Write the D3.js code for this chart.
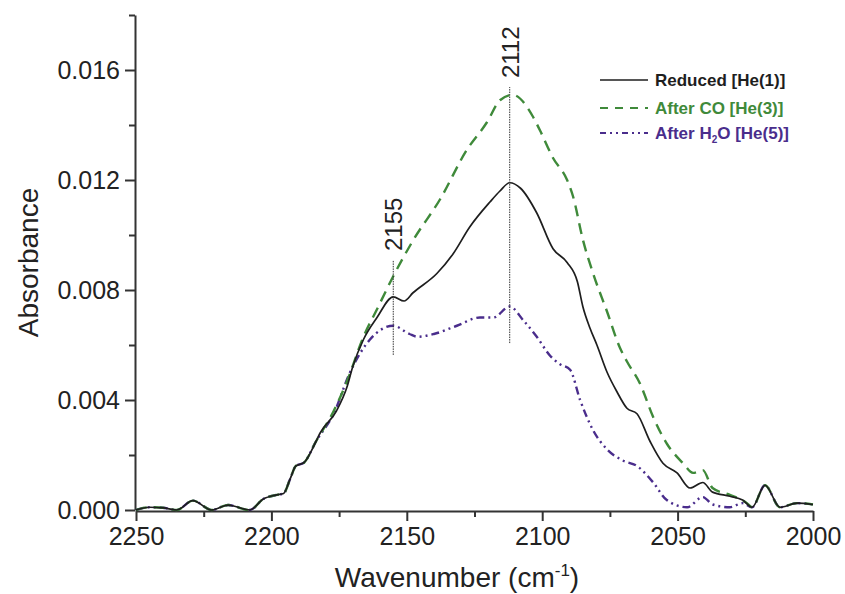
<!DOCTYPE html>
<html>
<head>
<meta charset="utf-8">
<script src="https://cdn.jsdelivr.net/npm/d3@7"></script>
<style>
    body { margin: 0; background: #fff; }
    #chart-area { width: 845px; height: 594px; }
    text { font-family: "Liberation Sans", Arial, sans-serif; fill: #222; }
    .axis path, .axis line { stroke: #333; stroke-width: 2; }
    .legend text { font-weight: bold; font-size: 17px; }
</style>
</head>
<body>
<div id="chart-area"></div>
<script>

// spectra: [wavenumber (cm-1), absorbance]
const baseline = [
    [2250, 0.0000], [2245, 0.00010], [2240, 0.00008], [2235, 0.0000], [2229, 0.00034],
    [2222, 0.0000], [2216, 0.00018], [2208, 0.0000], [2203, 0.00040], [2198, 0.00055],
    [2195.5, 0.00060], [2193, 0.00115], [2191, 0.00160], [2188, 0.00172], [2183.5, 0.0025]
];

const reduced = baseline.concat([
    [2182, 0.0028], [2176, 0.0036], [2172, 0.0045], [2170, 0.0052], [2166, 0.0062],
    [2161, 0.0070], [2155, 0.00775], [2151, 0.0076], [2147.7, 0.0079], [2138.9, 0.0086],
    [2133, 0.0093], [2126.7, 0.0103], [2119.3, 0.0112], [2115.6, 0.0116],
    [2112, 0.0119], [2108, 0.0117], [2102, 0.0108], [2096, 0.0095],
    [2090.8, 0.0090], [2087, 0.0083], [2085, 0.0074], [2082.3, 0.0066], [2079.8, 0.0060], [2076, 0.0050],
    [2072.4, 0.0043], [2068.7, 0.0037], [2065, 0.0035], [2060.2, 0.0025], [2055.4, 0.0017],
    [2050.2, 0.00135], [2045.4, 0.0008], [2040.7, 0.0010], [2037.1, 0.00065], [2030.7, 0.0005],
    [2026, 0.00036], [2022.5, 0.0001], [2017.7, 0.0009], [2012.2, 0.0001], [2005.9, 0.00025],
    [2000, 0.0002]
]);

const afterCO = baseline.concat([
    [2177, 0.0036], [2172, 0.0047], [2166, 0.0063], [2161, 0.0073], [2155, 0.0085],
    [2147.7, 0.0098], [2137.7, 0.0113], [2127.8, 0.0131], [2120.4, 0.0141],
    [2115.6, 0.0149], [2111, 0.0151], [2103.4, 0.0143], [2100.8, 0.0138], [2096, 0.0128],
    [2090.8, 0.0120], [2088.6, 0.0114], [2084.9, 0.0098], [2081.2, 0.0086], [2076, 0.0072],
    [2071.3, 0.0059], [2068.7, 0.0054], [2063.9, 0.0046], [2059.1, 0.0034], [2053.9, 0.0024],
    [2048, 0.0017], [2044.3, 0.00135], [2040.7, 0.00145], [2037.1, 0.0008], [2030.7, 0.00055],
    [2024.4, 0.00025], [2022.5, 0.0001], [2017.7, 0.0009], [2012.2, 0.0001], [2005.9, 0.00025],
    [2000, 0.0002]
]);

const afterH2O = baseline.concat([
    [2177, 0.0035], [2171, 0.0050], [2163.6, 0.0062], [2155, 0.0067], [2149, 0.0064],
    [2146, 0.0063], [2140, 0.0064], [2131.5, 0.0067], [2123, 0.0070], [2118, 0.0070],
    [2112, 0.0074], [2107, 0.0069], [2102, 0.0063], [2097, 0.0056], [2093.4, 0.0053],
    [2089.7, 0.0051], [2086, 0.0040], [2081.2, 0.0029], [2076, 0.0022], [2070.2, 0.0018],
    [2065, 0.0016], [2059, 0.0010], [2054, 0.00036], [2046.5, 0.0001], [2040.7, 0.00047],
    [2037, 0.0002], [2030.7, 0.0001], [2026, 0.00025], [2022.5, 0.0001], [2017.7, 0.0009],
    [2012.2, 0.0001], [2005.9, 0.00025], [2000, 0.0002]
]);

const seriesNames = ["Reduced [He(1)]", "After CO [He(3)]", "After H2O [He(5)]"];
const seriesColors = ["#1e1e1e", "#3f8a3a", "#4a2d8c"];
const seriesDash = [null, "11,7", "8,4,2,4,2,4"];

// marked bands: dotted line from y0 to y1
const peakMarks = [
    {wn: 2155, y0: 0.00564, y1: 0.00909},
    {wn: 2112, y0: 0.00607, y1: 0.01538}
];

const xTicks = [2250, 2200, 2150, 2100, 2050, 2000];
const xMinor = [2225, 2175, 2125, 2075, 2025];
const yTicks = [0, 0.004, 0.008, 0.012, 0.016];
const yMinor = [0.002, 0.006, 0.010, 0.014, 0.018];

class SpectraVis {

    constructor(_parentElement) {
        this.parentElement = _parentElement;
        this.initVis();
    }

    initVis() {
        let vis = this;

        vis.margin = {top: 15, right: 32, bottom: 84, left: 136};
        vis.width = 845 - vis.margin.left - vis.margin.right;
        vis.height = 594 - vis.margin.top - vis.margin.bottom;

        vis.svg = d3.select("#" + vis.parentElement).append("svg")
            .attr("width", 845)
            .attr("height", 594)
            .append("g")
            .attr("transform", "translate(" + vis.margin.left + "," + vis.margin.top + ")");

        vis.x = d3.scaleLinear().domain([2250, 2000]).range([0, vis.width]);
        vis.y = d3.scaleLinear().domain([0, 0.018]).range([vis.height, 0]);

        // minor ticks first, major on top
        vis.svg.append("g")
            .attr("class", "axis")
            .attr("transform", "translate(0," + (vis.height + 1) + ")")
            .call(d3.axisBottom(vis.x).tickValues(xMinor).tickSize(6).tickFormat(""))
            .select(".domain").remove();
        vis.svg.append("g")
            .attr("class", "axis")
            .attr("transform", "translate(-1,0)")
            .call(d3.axisLeft(vis.y).tickValues(yMinor).tickSize(6).tickFormat(""))
            .select(".domain").remove();

        let xAxisGroup = vis.svg.append("g")
            .attr("class", "axis")
            .attr("transform", "translate(0," + (vis.height + 1) + ")")
            .call(d3.axisBottom(vis.x).tickValues(xTicks).tickSize(10).tickSizeOuter(0).tickPadding(6).tickFormat(d3.format("d")));
        xAxisGroup.selectAll("text").attr("font-size", 25).style("fill", "#222");

        let yAxisGroup = vis.svg.append("g")
            .attr("class", "axis")
            .attr("transform", "translate(-1,0)")
            .call(d3.axisLeft(vis.y).tickValues(yTicks).tickSize(10).tickSizeOuter(0).tickPadding(5).tickFormat(d3.format(".3f")));
        yAxisGroup.selectAll("text").attr("font-size", 25).style("fill", "#222");

        // axis titles
        let xt = vis.svg.append("text")
            .attr("x", 457 - vis.margin.left)
            .attr("y", 587 - vis.margin.top)
            .attr("text-anchor", "middle")
            .attr("font-size", 28)
            .text("Wavenumber (cm");
        xt.append("tspan").attr("font-size", 17).attr("dy", -11).text("-1");
        xt.append("tspan").attr("dy", 11).text(")");

        vis.svg.append("text")
            .attr("transform", "translate(" + (38 - vis.margin.left) + "," + (vis.height / 2) + ") rotate(-90)")
            .attr("text-anchor", "middle")
            .attr("font-size", 28)
            .text("Absorbance");

        vis.updateVis();
    }

    updateVis() {
        let vis = this;

        let line = d3.line()
            .x(d => vis.x(d[0]))
            .y(d => vis.y(d[1]))
            .curve(d3.curveMonotoneX);

        let allSeries = [reduced, afterCO, afterH2O];

        // draw H2O first, then CO, reduced on top
        [2, 1, 0].forEach(i => {
            vis.svg.append("path")
                .datum(allSeries[i])
                .attr("class", "line")
                .attr("d", line)
                .attr("fill", "none")
                .attr("stroke", seriesColors[i])
                .attr("stroke-width", i === 0 ? 1.7 : 2.4)
                .attr("stroke-dasharray", seriesDash[i]);
        });

        // peak markers
        peakMarks.forEach(p => {
            vis.svg.append("line")
                .attr("x1", vis.x(p.wn)).attr("x2", vis.x(p.wn))
                .attr("y1", vis.y(p.y0)).attr("y2", vis.y(p.y1))
                .attr("stroke", "#333")
                .attr("stroke-width", 1)
                .attr("stroke-dasharray", "1.5,1");
            vis.svg.append("text")
                .attr("transform", "translate(" + (vis.x(p.wn) + 9) + "," + (vis.y(p.y1) - 9) + ") rotate(-90)")
                .attr("font-size", 24)
                .text(p.wn);
        });

        // legend
        let legend = vis.svg.append("g")
            .attr("class", "legend")
            .attr("transform", "translate(" + (600 - vis.margin.left) + "," + (80 - vis.margin.top) + ")");
        let rowY = [0, 28, 53];
        seriesNames.forEach((name, i) => {
            legend.append("line")
                .attr("x1", 0).attr("x2", 48)
                .attr("y1", rowY[i]).attr("y2", rowY[i])
                .attr("stroke", seriesColors[i])
                .attr("stroke-width", i === 0 ? 1.7 : 2.2)
                .attr("stroke-dasharray", i === 1 ? "8,7" : (i === 2 ? "6,4,2,4,2,4" : null));
            let t = legend.append("text")
                .attr("x", 55)
                .attr("y", rowY[i] + 6)
                .style("fill", seriesColors[i]);
            if (i === 2) {
                t.append("tspan").text("After H");
                t.append("tspan").attr("font-size", 10).attr("dy", 4).text("2");
                t.append("tspan").attr("dy", -4).text("O [He(5)]");
            } else {
                t.text(name);
            }
        });
    }
}

new SpectraVis("chart-area");
</script>
</body>
</html>
